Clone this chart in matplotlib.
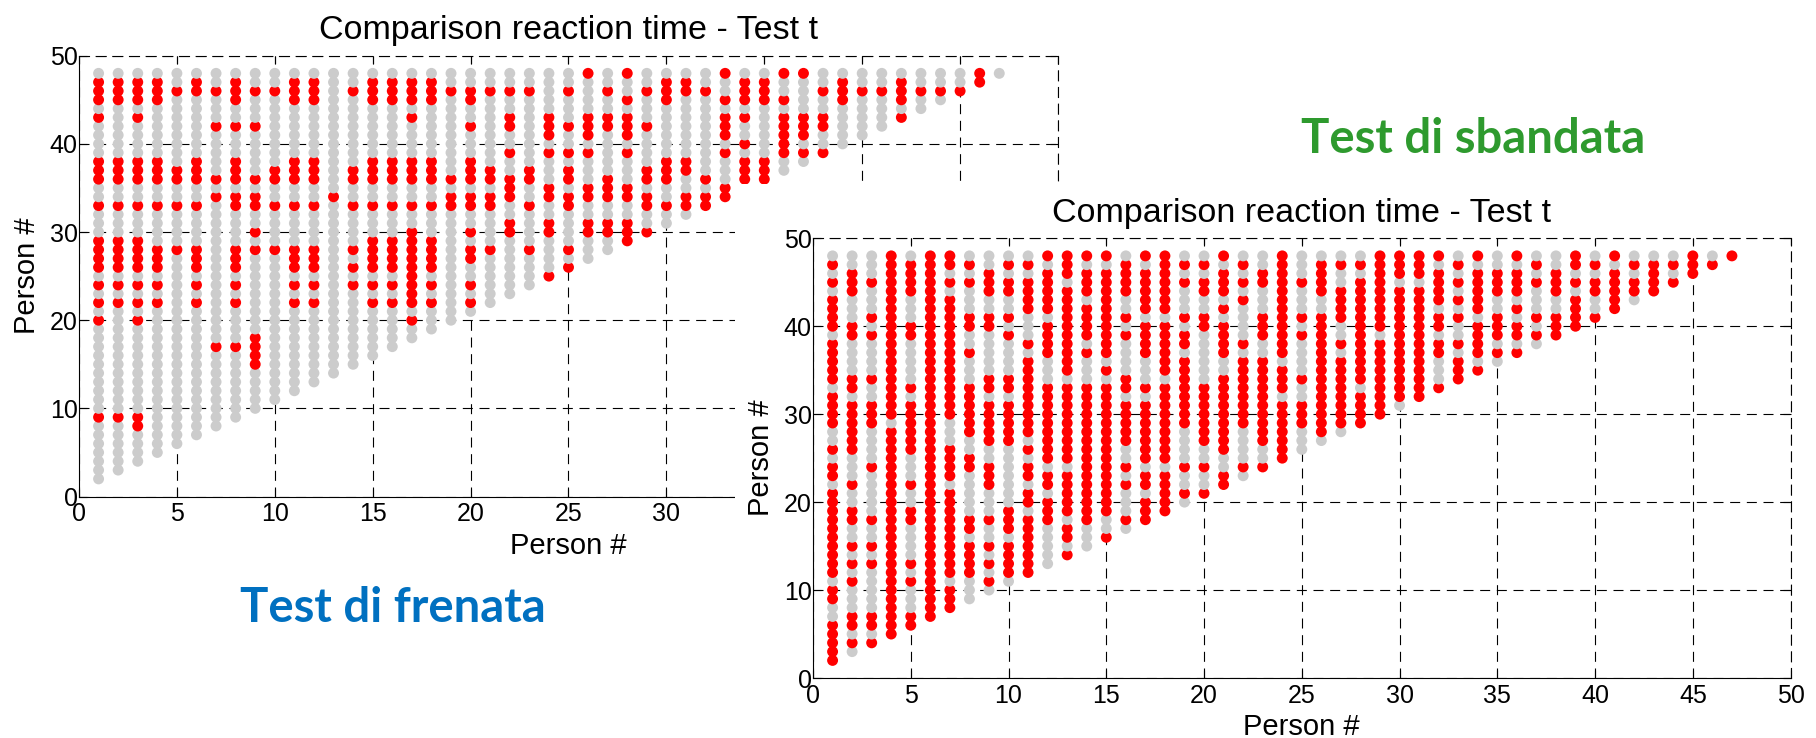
import matplotlib
matplotlib.use('Agg')
import matplotlib.pyplot as plt
from matplotlib.patches import Rectangle

plt.rcParams['font.family'] = 'Liberation Sans'

persons = list(range(1, 49))

# person on x -> persons on y whose comparison is red (significant); all the others are grey
frenata_red = {
    1: [47, 46, 45, 43, 38, 37, 36, 33, 29, 28, 27, 26, 24, 22, 20, 9],
    2: [47, 46, 45, 38, 37, 36, 33, 29, 28, 27, 26, 24, 22, 9],
    3: [47, 46, 45, 43, 38, 37, 36, 33, 29, 28, 27, 26, 24, 22, 20, 9, 8],
    4: [47, 46, 45, 38, 37, 36, 33, 28, 27, 26, 24, 22],
    5: [46, 37, 36, 33, 28],
    6: [47, 46, 38, 37, 36, 33, 28, 27, 26, 24, 22],
    7: [46, 42, 36, 34, 17],
    8: [47, 46, 45, 42, 38, 37, 36, 34, 33, 28, 27, 26, 24, 22, 17],
    9: [46, 42, 36, 34, 33, 30, 28, 18, 17, 16, 15],
    10: [46, 37, 36, 33, 28],
    11: [47, 46, 45, 38, 37, 36, 33, 28, 27, 26, 24, 22],
    12: [47, 46, 45, 38, 37, 36, 33, 28, 27, 26, 24, 22],
    13: [34],
    14: [46, 37, 36, 33, 28, 26, 24],
    15: [47, 46, 45, 38, 37, 36, 33, 29, 28, 27, 26, 24, 22],
    16: [47, 46, 45, 38, 37, 36, 33, 29, 28, 27, 26, 24, 22],
    17: [47, 46, 45, 43, 38, 37, 36, 33, 30, 29, 28, 27, 26, 25, 24, 23, 22, 20],
    18: [47, 46, 45, 38, 37, 36, 33, 29, 28, 27, 26, 24, 22],
    19: [46, 36, 34, 33],
    20: [46, 45, 42, 38, 37, 36, 34, 33, 30, 28, 27, 24, 22],
    21: [46, 37, 36, 34, 33, 28],
    22: [46, 43, 42, 39, 36, 35, 34, 31, 30],
    23: [46, 37, 36, 33, 28],
    24: [43, 42, 41, 39, 35, 34, 31, 30, 25],
    25: [46, 42, 39, 37, 36, 34, 33, 28, 26],
    26: [48, 43, 42, 41, 39, 35, 34, 31, 30],
    27: [46, 43, 42, 36, 35, 34, 31, 30],
    28: [48, 45, 43, 42, 41, 39, 35, 34, 31, 30, 29],
    29: [46, 42, 37, 36, 34, 33, 30],
    30: [47, 46, 45, 38, 37, 36, 33],
    31: [47, 46, 38, 37, 34, 33],
    32: [46, 36, 34, 33],
    33: [48, 45, 43, 42, 41, 39, 35, 34],
    34: [47, 46, 45, 43, 40, 38, 37, 36],
    35: [47, 46, 45, 38, 37, 36],
    36: [48, 45, 43, 42, 41, 40, 39],
    37: [48, 43, 42, 41, 39],
    38: [46, 43, 42, 39],
    39: [47, 46, 45],
    40: [46],
    41: [46],
    42: [47, 46, 45, 43],
    43: [46],
    44: [46],
    45: [46],
    46: [48, 47],
    47: [],
}

sbandata_red = {
    1: [47, 45, 43, 42, 41, 40, 38, 37, 36, 35, 34, 32, 31, 30, 29, 26, 24, 23, 21, 20,
        19, 18, 17, 16, 15, 14, 13, 12, 10, 9, 6, 5, 4, 3, 2],
    2: [46, 45, 44, 40, 39, 34, 33, 31, 30, 29, 28, 27, 26, 22, 19, 18, 15, 13, 11, 7, 6, 4],
    3: [45, 41, 39, 34, 31, 30, 29, 24, 18, 15, 13, 7, 6, 4],
    4: [48, 47, 46, 45, 44, 43, 42, 41, 40, 39, 38, 37, 36, 35, 34, 33, 32, 31, 30, 28, 27,
        26, 25, 24, 23, 22, 21, 20, 19, 18, 17, 16, 15, 14, 13, 12, 11, 10, 9, 8, 7, 6, 5],
    5: [47, 46, 45, 44, 40, 39, 33, 31, 30, 29, 28, 27, 26, 22, 19, 18, 13, 11, 7, 6],
    6: [48, 47, 46, 45, 44, 43, 42, 41, 40, 39, 38, 37, 36, 35, 34, 33, 32, 31, 30, 29, 28,
        27, 26, 25, 24, 23, 22, 21, 20, 19, 18, 17, 16, 15, 14, 13, 12, 11, 10, 9, 8, 7],
    7: [48, 47, 45, 43, 42, 41, 40, 39, 38, 37, 36, 35, 34, 33, 32, 31, 30, 26, 25, 24, 23,
        21, 20, 19, 18, 17, 16, 15, 14, 13, 12, 10, 9, 8],
    8: [47, 45, 41, 40, 37, 33, 32, 31, 30, 29, 28, 25, 24, 18, 17, 15, 14, 13, 12],
    9: [46, 45, 44, 41, 40, 34, 33, 31, 30, 29, 28, 27, 24, 23, 22, 18, 15, 13, 11],
    10: [47, 45, 44, 41, 39, 34, 33, 31, 30, 29, 28, 27, 19, 18, 17, 15, 14, 13, 12],
    11: [47, 45, 44, 43, 42, 38, 36, 35, 34, 33, 32, 31, 30, 29, 28, 26, 24, 23, 21, 20,
         18, 17, 16, 15, 14, 13, 12],
    12: [48, 46, 45, 44, 43, 42, 40, 39, 38, 37, 33, 32, 31, 30, 29, 28, 27, 26, 25, 23,
         22, 20, 19, 18],
    13: [48, 47, 46, 44, 43, 42, 41, 40, 39, 38, 37, 36, 35, 33, 32, 31, 30, 29, 28, 27,
         26, 25, 23, 22, 21, 20, 19, 17, 16, 14],
    14: [48, 46, 45, 44, 42, 41, 40, 39, 37, 33, 32, 31, 30, 29, 28, 27, 26, 25, 24, 23,
         22, 21, 20, 19, 18],
    15: [48, 46, 45, 44, 43, 42, 41, 40, 39, 38, 37, 35, 33, 32, 31, 30, 29, 28, 27, 26,
         25, 24, 23, 22, 21, 20, 19, 16],
    16: [47, 46, 45, 44, 41, 39, 34, 33, 31, 30, 29, 28, 27, 24, 22, 18],
    17: [48, 46, 45, 44, 43, 42, 40, 39, 38, 37, 33, 31, 30, 29, 28, 27, 26, 25, 23, 22,
         20, 19, 18],
    18: [48, 47, 46, 45, 44, 43, 42, 40, 39, 38, 37, 36, 35, 33, 32, 31, 30, 29, 28, 27,
         26, 25, 23, 22, 21, 20, 19],
    19: [47, 45, 41, 39, 38, 36, 35, 34, 33, 32, 31, 30, 29, 24, 21],
    20: [47, 45, 44, 41, 40, 33, 32, 31, 30, 29, 28, 27, 24, 21],
    21: [48, 46, 45, 44, 42, 40, 39, 38, 37, 34, 33, 32, 31, 30, 29, 28, 27, 26, 23, 22],
    22: [47, 45, 43, 38, 36, 35, 34, 33, 32, 31, 30, 29, 24],
    23: [46, 45, 41, 40, 39, 36, 35, 34, 33, 32, 31, 30, 29, 28, 27, 24],
    24: [48, 47, 46, 45, 44, 43, 42, 41, 40, 39, 38, 37, 35, 34, 33, 31, 30, 29, 28, 27, 26, 25],
    25: [45, 41, 39, 34, 31, 30, 29],
    26: [47, 46, 45, 44, 41, 40, 39, 38, 37, 36, 35, 34, 33, 32, 31, 30, 29, 28],
    27: [47, 44, 43, 42, 41, 38, 36, 35, 34, 33, 32, 31, 30, 29],
    28: [47, 45, 44, 43, 42, 41, 40, 39, 38, 37, 36, 35, 34, 32, 31, 30, 29],
    29: [48, 47, 46, 45, 44, 43, 42, 41, 40, 38, 37, 36, 35, 34, 33, 32, 31, 30],
    30: [48, 47, 46, 44, 43, 42, 41, 40, 39, 38, 37, 36, 35, 34, 33, 32],
    31: [48, 47, 46, 44, 43, 42, 41, 40, 39, 38, 37, 36, 35, 34, 33, 32],
    32: [48, 46, 45, 44, 43, 41, 40, 38, 37, 33],
    33: [47, 45, 43, 41, 38, 36, 35, 34],
    34: [48, 46, 45, 44, 43, 42, 40, 39, 38, 37, 35],
    35: [46, 45, 44, 41, 40, 39, 37],
    36: [48, 46, 45, 44, 42, 40, 39, 37],
    37: [47, 45, 41, 39],
    38: [46, 45, 44, 41, 40, 39],
    39: [48, 47, 45, 43, 42, 41, 40],
    40: [47, 45, 44, 41],
    41: [48, 46, 45, 44, 43, 42],
    42: [47, 45, 44],
    43: [47, 46, 45, 44],
    44: [47, 45],
    45: [48, 47, 46],
    46: [47],
    47: [48],
}

ticks_x = [0, 5, 10, 15, 20, 25, 30, 35, 40, 45, 50]
ticks_y = [0, 10, 20, 30, 40, 50]
title = 'Comparison reaction time - Test t'
label = 'Person #'

RED = '#ff0000'
GREY = '#cccccc'
DASH = (0, (9, 6))


def plot_panel(ax, red_rows):
    x = []
    y = []
    colors = []
    for i in persons[:-1]:
        for j in persons[i:]:
            x.append(i)
            y.append(j)
            if j in red_rows[i]:
                colors.append(RED)
            else:
                colors.append(GREY)

    ax.scatter(x, y, c=colors, s=62, linewidths=0, zorder=3)
    ax.set_xlim(0, 50)
    ax.set_ylim(0, 50)
    ax.set_xticks(ticks_x)
    ax.set_yticks(ticks_y)
    ax.grid(True, color='black', linestyle=DASH, linewidth=0.8)
    ax.set_axisbelow(True)
    for side in ['top', 'right']:
        ax.spines[side].set_linestyle(DASH)
        ax.spines[side].set_linewidth(0.8)
    ax.tick_params(direction='in', length=6, width=0.8, top=True, right=True, labelsize=18)
    ax.tick_params(axis='x', pad=4)
    ax.tick_params(axis='y', pad=1)
    ax.set_title(title, fontsize=24.5, pad=12)
    ax.set_xlabel(label, fontsize=21, labelpad=4)
    ax.set_ylabel(label, fontsize=21, labelpad=6)


fig = plt.figure(figsize=(18.16, 7.38), dpi=100)

ax1 = fig.add_axes([0.0435, 0.3272, 0.5391, 0.5973])
ax1.set_zorder(1)
plot_panel(ax1, frenata_red)

# white background of the second picture, pasted over the first one
fig.add_artist(Rectangle((0.4047, 0), 0.6, 0.7507, transform=fig.transFigure,
                         facecolor='white', edgecolor='none', zorder=2))

ax2 = fig.add_axes([0.4477, 0.0813, 0.5383, 0.5958])
ax2.set_zorder(3)
plot_panel(ax2, sbandata_red)

fig.text(0.2164, 0.1572, 'Test di frenata', family='Lato', fontweight='bold',
         fontsize=34, color='#0070c0', ha='center', va='baseline', zorder=4)
fig.text(0.9059, 0.7927, 'Test di sbandata', family='Lato', fontweight='bold',
         fontsize=34, color='#2e9a2e', ha='right', va='baseline', zorder=4)

fig.savefig('out.png', dpi=100)
